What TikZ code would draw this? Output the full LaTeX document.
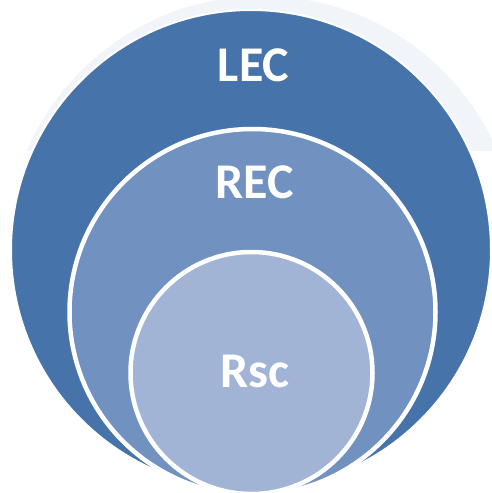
\documentclass[tikz,border=0pt]{standalone}
\usepackage{fontspec}
\setmainfont{Carlito}
\definecolor{outerC}{HTML}{4674AA}
\definecolor{midC}{HTML}{7191C1}
\definecolor{innerC}{HTML}{A2B4D6}
\definecolor{faintC}{HTML}{F1F4F8}
\begin{document}
\begin{tikzpicture}[x=1pt,y=-1pt,
  ring/.style={draw=white},
  lbl/.style={text=white,font=\bfseries\fontsize{50}{60}\selectfont,anchor=base,inner sep=0pt}]
\useasboundingbox (0,0) rectangle (492,493);
\begin{scope}
  \clip (0,0) rectangle (492,150);
  \fill[faintC] (262,252) circle[radius=256];
\end{scope}
\draw[ring,line width=2pt,fill=outerC] (251,250) circle[radius=240];
\draw[ring,line width=4.5pt,fill=midC] (252.5,312) circle[radius=183];
\draw[ring,line width=4.5pt,fill=innerC] (251.5,373) circle[radius=121];
\node[lbl] (lec) at (253.5,81.7) {LEC};
\node[lbl] (rec) at (254.5,198.3) {REC};
\node[lbl] (rsc) at (255,387.7) {Rsc};
\end{tikzpicture}
\end{document}
